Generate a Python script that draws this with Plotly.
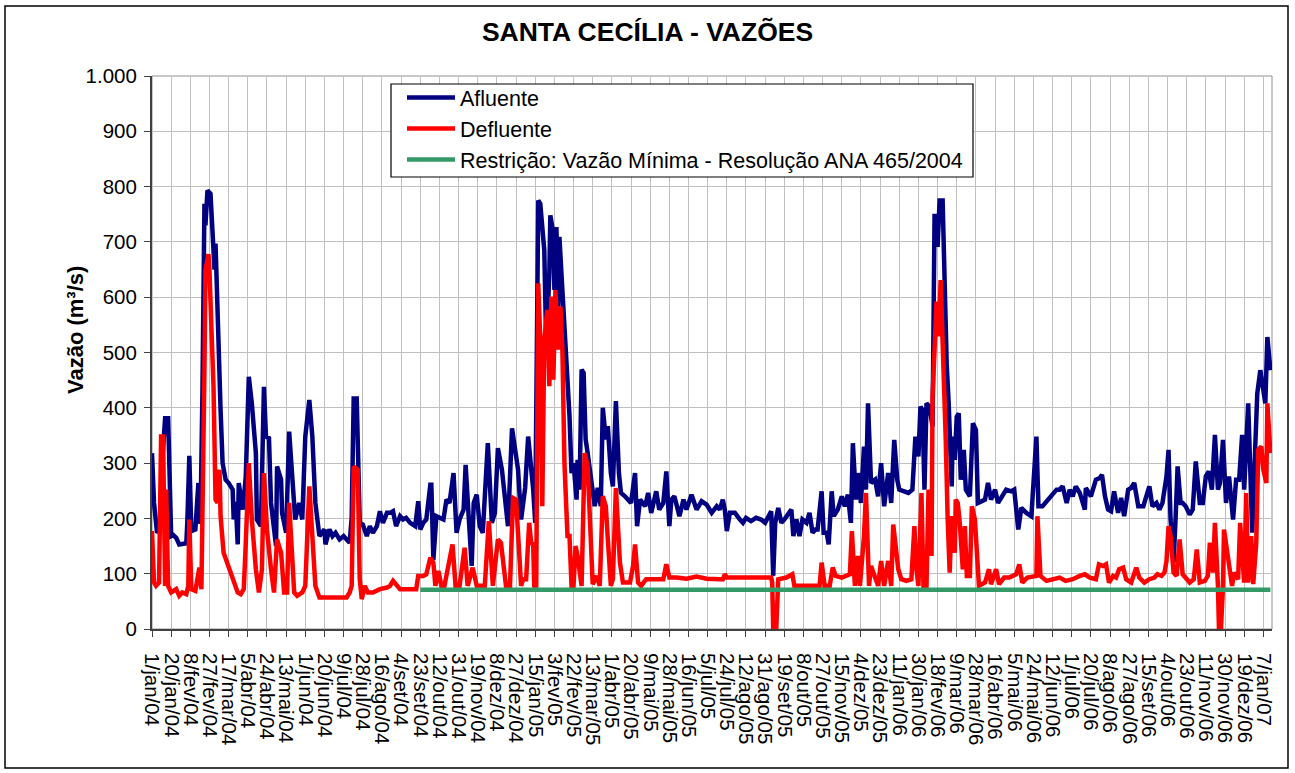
import pandas as pd
import plotly.graph_objects as go

# ---------------- data (days counted from 1/jan/2004) ----------------
dia_afl = [0, 2, 5, 8, 10, 13, 16, 18, 19, 21, 24, 27, 30, 34, 35, 37, 39, 43, 46, 48, 50, 52, 53, 55, 58, 60, 62, 63, 65, 67, 68, 70, 73, 76, 80, 81, 83, 85, 86, 90, 93, 96, 99, 103, 104, 108, 111, 113, 116, 118, 121, 123, 124, 128, 129, 133, 136, 139, 142, 146, 149, 152, 156, 159, 162, 166, 171, 172, 176, 179, 182,
           186, 190, 193, 196, 198, 200, 203, 206, 209, 213, 216, 219, 223, 226, 229, 233, 236, 239, 242, 246, 249, 252, 256, 261, 264, 266, 269, 272, 276, 277, 279, 282, 289, 292, 295, 299, 302, 305, 309, 311, 314, 317, 319, 322, 325, 328, 333, 337, 340, 343, 347, 350, 353, 357, 360, 363, 366, 370, 373,
           376, 378, 380, 383, 385, 388, 389, 391, 394, 395, 398, 399, 401, 403, 404, 406, 409, 411, 414, 416, 418, 421, 422, 424, 426, 428, 430, 432, 435, 437, 439, 442, 445, 447, 450, 452, 455, 457, 460, 463, 465, 469, 472, 475, 479, 481, 484, 489, 492, 495, 500, 503, 507, 510, 513, 515, 518, 523, 527, 530, 535, 540, 545, 550, 555, 560, 563,
           566, 568, 570, 573, 578, 583, 586, 589, 594, 599, 604, 608, 611, 614, 616, 618, 621, 624, 627, 631, 634, 636, 639, 642, 645, 649, 652, 655, 658, 660, 664, 666, 669, 671, 674, 676, 680, 684, 687, 690, 693, 695, 698, 700, 703, 706, 708, 710, 713, 717, 720, 723, 726, 730, 733, 736, 739, 741, 745, 750,
           754, 757, 760, 762, 764, 766, 768, 771, 774, 776, 779, 781, 784, 786, 788, 790, 793, 794, 796, 798, 800, 802, 805, 807, 811, 814, 817, 819, 822, 826, 829, 832, 836, 839, 844, 847, 852, 855, 859, 862, 867, 872, 877, 879, 883, 887, 892, 897, 900, 903, 907, 910, 913, 916, 920, 925, 926, 931, 936,
           940, 942, 945, 948, 951, 954, 958, 961, 964, 968, 971, 974, 978, 983, 986, 989, 992, 996, 999, 1002, 1006, 1008, 1010, 1013, 1015, 1017, 1020, 1022, 1025, 1029, 1032, 1035, 1039, 1042, 1045, 1048, 1051, 1054, 1057, 1059, 1062, 1065, 1068, 1072, 1075, 1078, 1081, 1083, 1087, 1089, 1091, 1094, 1096, 1099, 1101, 1104, 1106, 1109]
vaz_afl = [318, 228, 174, 180, 300, 381, 381, 200, 168, 170, 165, 153, 153, 155, 192, 313, 177, 180, 264, 190, 426, 769, 730, 793, 787, 697, 650, 697, 559, 408, 396, 300, 270, 264, 252, 198, 230, 153, 264, 216, 276, 456, 408, 318, 198, 186, 438, 348, 345, 228, 186, 150, 294, 270, 210, 174, 357, 288, 198, 228, 198, 348, 414, 348, 228, 168, 180, 153, 180, 168, 174,
           162, 168, 162, 156, 201, 417, 417, 192, 189, 168, 186, 174, 186, 213, 192, 210, 210, 213, 186, 204, 198, 201, 192, 186, 231, 180, 192, 198, 261, 261, 125, 204, 198, 234, 228, 282, 174, 198, 216, 297, 204, 114, 228, 243, 186, 174, 336, 192, 210, 327, 288, 228, 186, 363, 318, 288, 198, 255, 348,
           300, 252, 192, 775, 769, 685, 685, 505, 643, 748, 715, 613, 727, 583, 709, 643, 547, 457, 385, 282, 300, 234, 306, 252, 469, 463, 343, 318, 282, 246, 222, 255, 222, 400, 343, 367, 282, 258, 412, 282, 246, 240, 234, 228, 282, 186, 234, 222, 246, 210, 249, 216, 228, 285, 186, 234, 240, 204, 234, 216, 243, 216, 231, 225, 210, 222, 216,
           234, 216, 177, 210, 210, 198, 192, 201, 195, 201, 198, 192, 204, 213, 96, 192, 219, 192, 198, 210, 216, 168, 198, 168, 198, 192, 210, 174, 180, 180, 249, 174, 174, 153, 249, 204, 216, 240, 222, 243, 192, 336, 234, 282, 228, 330, 252, 408, 264, 270, 240, 300, 222, 282, 228, 342, 270, 252, 249, 246,
           252, 348, 312, 402, 396, 252, 408, 402, 366, 751, 691, 775, 775, 601, 480, 408, 258, 348, 306, 384, 390, 270, 324, 252, 240, 372, 360, 228, 231, 234, 264, 234, 252, 228, 243, 252, 249, 252, 180, 219, 210, 204, 348, 222, 222, 231, 240, 252, 252, 258, 228, 252, 240, 258, 246, 216, 255, 240, 270,
           273, 279, 240, 216, 213, 249, 210, 237, 204, 252, 255, 264, 222, 222, 243, 258, 222, 228, 216, 228, 276, 324, 198, 120, 200, 294, 228, 228, 222, 207, 216, 303, 228, 228, 276, 285, 252, 351, 252, 264, 342, 228, 276, 198, 270, 270, 351, 252, 408, 300, 174, 330, 426, 468, 444, 408, 528, 468]

dia_def = [0, 2, 4, 7, 9, 11, 13, 14, 16, 19, 24, 27, 30, 34, 36, 37, 39, 43, 47, 49, 52, 53, 56, 57, 59, 61, 63, 65, 67, 68, 71, 75, 78, 81, 85, 88, 91, 93, 96, 99, 103, 106, 109, 111, 114, 118, 121, 124, 128, 131, 134, 136, 139, 141, 144, 149, 152, 156, 159, 162, 166, 176,
           186, 193, 196, 198, 200, 204, 206, 208, 211, 214, 219, 226, 233, 236, 239, 242, 246, 256, 262, 264, 269, 272, 276, 279, 281, 284, 287, 290, 294, 298, 301, 305, 310, 313, 318, 322, 330, 334, 338, 343, 346, 351, 355, 358, 361, 364, 366,
           368, 371, 374, 376, 378, 379, 381, 383, 385, 387, 389, 392, 394, 396, 398, 400, 403, 405, 407, 409, 412, 414, 416, 418, 420, 422, 426, 429, 432, 435, 437, 441, 444, 447, 450, 452, 455, 457, 460, 464, 467, 474, 477, 479, 482, 485, 490, 500, 507, 510, 513, 520, 530, 540, 550, 563,
           566, 568, 570, 579, 593, 606, 614, 615, 616, 619, 621, 629, 635, 637, 662, 664, 667, 672, 675, 678, 684, 692, 694, 697, 700, 702, 706, 708, 711, 713, 717, 720, 723, 726, 730, 733, 735, 738, 740, 743, 748,
           753, 756, 758, 760, 763, 765, 768, 770, 773, 774, 778, 780, 782, 784, 787, 789, 791, 793, 796, 797, 799, 801, 804, 806, 808, 811, 813, 816, 818, 820, 826, 830, 832, 837, 840, 845, 850, 857, 860, 863, 868, 877, 878, 881, 887, 893, 900, 906, 913, 920, 925, 930,
           936, 939, 943, 946, 949, 953, 956, 959, 963, 966, 971, 976, 979, 984, 989, 994, 997, 1001, 1004, 1006, 1008, 1010, 1013, 1016, 1019, 1022, 1025, 1029, 1033, 1036, 1039, 1044, 1047, 1049, 1052, 1054, 1057, 1058, 1060, 1062, 1063, 1066, 1068, 1071, 1073, 1077, 1079, 1082, 1083, 1085, 1087, 1090, 1092, 1095, 1097, 1100, 1102, 1105, 1106, 1109]
vaz_def = [177, 84, 78, 84, 348, 348, 78, 252, 78, 66, 72, 60, 66, 63, 78, 198, 72, 69, 111, 72, 468, 648, 678, 648, 540, 438, 234, 228, 288, 204, 138, 117, 99, 84, 66, 63, 72, 156, 300, 198, 108, 66, 108, 282, 180, 108, 66, 162, 138, 66, 66, 228, 114, 66, 60, 66, 78, 258, 168, 78, 57, 57,
           57, 57, 66, 78, 294, 288, 90, 54, 78, 66, 66, 72, 75, 78, 87, 81, 72, 72, 72, 96, 96, 99, 129, 120, 78, 105, 78, 78, 111, 153, 78, 78, 147, 78, 111, 78, 78, 195, 78, 162, 156, 78, 78, 237, 234, 120, 78,
           90, 90, 192, 156, 153, 78, 75, 625, 523, 222, 523, 577, 439, 601, 451, 613, 505, 583, 500, 300, 168, 168, 78, 78, 150, 132, 78, 318, 294, 162, 81, 96, 78, 240, 222, 162, 78, 90, 255, 120, 84, 84, 114, 153, 84, 78, 90, 90, 90, 117, 93, 93, 91, 95, 91, 90,
           90, 99, 93, 93, 93, 93, 93, 84, 0, 0, 90, 93, 99, 78, 78, 120, 78, 78, 111, 96, 93, 99, 177, 78, 132, 78, 168, 246, 78, 114, 96, 78, 123, 78, 123, 78, 189, 138, 108, 90, 87,
           90, 186, 108, 78, 246, 78, 78, 252, 132, 420, 592, 529, 631, 529, 348, 198, 102, 204, 138, 234, 228, 192, 108, 186, 96, 96, 222, 198, 150, 78, 84, 108, 81, 108, 81, 93, 93, 99, 117, 84, 93, 96, 204, 96, 87, 90, 93, 87, 90, 96, 99, 93,
           90, 117, 114, 117, 84, 96, 93, 108, 111, 90, 84, 111, 93, 84, 90, 93, 99, 96, 102, 123, 186, 168, 102, 96, 162, 99, 93, 84, 90, 144, 84, 87, 96, 156, 102, 192, 78, 0, 0, 78, 180, 138, 114, 78, 102, 90, 192, 90, 84, 246, 84, 168, 81, 156, 324, 330, 288, 264, 408, 318]

restr_datas = ["2004-09-23", "2007-01-14"]
restr_vaz = [71, 71]

rotulos_x = ["1/jan/04", "20/jan/04", "8/fev/04", "27/fev/04", "17/mar/04", "5/abr/04", "24/abr/04", "13/mai/04",
             "1/jun/04", "20/jun/04", "9/jul/04", "28/jul/04", "16/ago/04", "4/set/04", "23/set/04", "12/out/04",
             "31/out/04", "19/nov/04", "8/dez/04", "27/dez/04", "15/jan/05", "3/fev/05", "22/fev/05", "13/mar/05",
             "1/abr/05", "20/abr/05", "9/mai/05", "28/mai/05", "16/jun/05", "5/jul/05", "24/jul/05", "12/ago/05",
             "31/ago/05", "19/set/05", "8/out/05", "27/out/05", "15/nov/05", "4/dez/05", "23/dez/05", "11/jan/06",
             "30/jan/06", "18/fev/06", "9/mar/06", "28/mar/06", "16/abr/06", "5/mai/06", "24/mai/06", "12/jun/06",
             "1/jul/06", "20/jul/06", "8/ago/06", "27/ago/06", "15/set/06", "4/out/06", "23/out/06", "11/nov/06",
             "30/nov/06", "19/dez/06", "7/jan/07"]

# ---------------- helpers ----------------
inicio = pd.Timestamp("2004-01-01")
x_afl = [inicio + pd.Timedelta(days=d) for d in dia_afl]
x_def = [inicio + pd.Timedelta(days=d) for d in dia_def]
meses = {"jan": 1, "fev": 2, "mar": 3, "abr": 4, "mai": 5, "jun": 6,
         "jul": 7, "ago": 8, "set": 9, "out": 10, "nov": 11, "dez": 12}
def parse(r):
    d, m, a = r.split("/")
    return pd.Timestamp(year=2000 + int(a), month=meses[m], day=int(d))
tick_vals = [parse(r) for r in rotulos_x]
x_fim = inicio + pd.Timedelta(days=1110.6)

FONT = "Arial, Liberation Sans, sans-serif"
W, H = 1295, 773
PL, PR, PT, PB = 152, 1272, 76, 629   # plot area in pixels
def px(x):
    return (x - PL) / (PR - PL)
def py(y):
    return (PB - y) / (PB - PT)

fig = go.Figure()
fig.add_trace(go.Scatter(x=x_afl, y=vaz_afl, mode="lines", name="Afluente",
                         line=dict(color="#000080", width=4.5)))
fig.add_trace(go.Scatter(x=x_def, y=vaz_def, mode="lines", name="Defluente",
                         line=dict(color="#FF0000", width=4.5)))
fig.add_trace(go.Scatter(x=pd.to_datetime(restr_datas), y=restr_vaz, mode="lines",
                         name="Restrição: Vazão Mínima - Resolução ANA 465/2004",
                         line=dict(color="#339966", width=4.5)))

fig.update_layout(
    width=W, height=H,
    margin=dict(l=PL, r=W - PR, t=PT, b=H - PB),
    paper_bgcolor="white", plot_bgcolor="white",
    separators=",.",
    font=dict(family=FONT, color="black", size=20),
    title=dict(text="<b>SANTA CECÍLIA - VAZÕES</b>", x=0.5, xref="container",
               y=1 - 32 / H, yref="container", yanchor="middle", xanchor="center",
               font=dict(size=26.5, family=FONT, color="black")),
    showlegend=True,
    legend=dict(x=px(402), y=py(77), xanchor="left", yanchor="top",
                bgcolor="rgba(0,0,0,0)", borderwidth=0,
                font=dict(size=21.5, family=FONT), itemwidth=48, tracegroupgap=0),
    xaxis=dict(type="date", range=[inicio, x_fim], tickmode="array",
               tickvals=tick_vals, ticktext=rotulos_x, tickangle=90,
               tickfont=dict(size=20.5, family=FONT), ticklabelstandoff=12,
               showgrid=True, gridcolor="#c0c0c0", gridwidth=1,
               showline=True, linecolor="#404040", linewidth=2,
               ticks="outside", ticklen=6, tickcolor="#404040", zeroline=False),
    yaxis=dict(range=[0, 1000], dtick=100, tick0=0, separatethousands=True,
               tickformat=",d", tickfont=dict(size=20.5, family=FONT), ticklabelstandoff=3,
               showgrid=True, gridcolor="#c0c0c0", gridwidth=1,
               showline=True, linecolor="#404040", linewidth=2,
               ticks="outside", ticklen=6, tickcolor="#404040", zeroline=False),
)

# y axis title
fig.add_annotation(text="<b>Vazão (m³/s)</b>", xref="paper", yref="paper",
                   x=px(75), y=py(330), textangle=-90,
                   showarrow=False, xanchor="center", yanchor="middle",
                   font=dict(size=22, family=FONT, color="black"))

# plot area frame, chart border and legend box
fig.add_shape(type="rect", xref="paper", yref="paper", x0=0, x1=1, y0=0, y1=1,
              line=dict(color="#909090", width=1), layer="below")
fig.add_shape(type="rect", xref="paper", yref="paper",
              x0=px(5), x1=px(1288), y0=py(768), y1=py(6),
              line=dict(color="black", width=1.5), layer="below")
fig.add_shape(type="rect", xref="paper", yref="paper",
              x0=px(391), x1=px(973), y0=py(177), y1=py(84),
              line=dict(color="black", width=1.2), fillcolor="white", layer="above")

fig.write_html("out.html", config={"displayModeBar": False},
               post_script="document.body.style.margin='0px';")
